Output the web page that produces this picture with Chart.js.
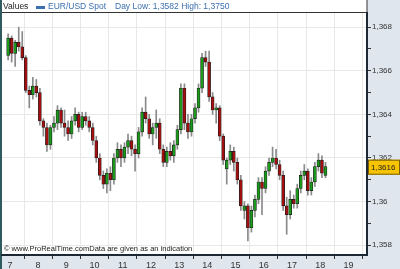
<!DOCTYPE html>
<html lang="en">
<head>
<meta charset="UTF-8">
<title>EUR/USD Spot</title>
<script src="https://cdn.jsdelivr.net/npm/chart.js"></script>
<style>
    body { margin: 0; background: #dfe6ee; }
    .wrap { position: relative; width: 400px; height: 269px; font-family: "Liberation Sans", Arial, sans-serif; }
    canvas { display: block; }
    .hdr { position: absolute; top: 1px; font-size: 8.5px; line-height: 10px; white-space: nowrap; }
    .blue { color: #3b6fae; }
    .swatch { position: absolute; left: 36px; top: 6px; width: 9px; height: 3px; background: #3a6fb0; }
    .note { position: absolute; left: 4px; top: 244px; font-size: 7.5px; line-height: 9px; color: #222; white-space: nowrap; }
</style>
</head>
<body>
<div class="wrap">
    <canvas id="chart" width="400" height="269"></canvas>
    <span class="hdr" style="left:3px;color:#222">Values</span>
    <span class="swatch"></span>
    <span class="hdr blue" style="left:48px">EUR/USD Spot</span>
    <span class="hdr blue" style="left:115px">Day Low: 1,3582 High: 1,3750</span>
    <span class="note">© www.ProRealTime.comData are given as an indication</span>
</div>
<script>
    // candles: one every 3 hours, first one on day 7
    const firstCandleDay = 7.4375;
    const candleStep = 0.125;
    const dayLabels = [7, 8, 9, 10, 11, 12, 13, 14, 15, 16, 17, 18, 19];

    const opens = [
        1.3667, 1.3675, 1.3668, 1.3673, 1.3671, 1.3666, 1.3651, 1.3649, 1.3653, 1.3650,
        1.3637, 1.3634, 1.3626, 1.3634, 1.3636, 1.3642, 1.3636, 1.3634, 1.3631, 1.3637,
        1.3640, 1.3634, 1.3639, 1.3637, 1.3634, 1.3628, 1.3620, 1.3612, 1.3608, 1.3613,
        1.3610, 1.3620, 1.3624, 1.3620, 1.3625, 1.3628, 1.3624, 1.3622, 1.3632, 1.3641,
        1.3638, 1.3631, 1.3634, 1.3636, 1.3624, 1.3618, 1.3623, 1.3621, 1.3626, 1.3633,
        1.3652, 1.3636, 1.3632, 1.3638, 1.3643, 1.3652, 1.3666, 1.3664, 1.3648, 1.3642,
        1.3643, 1.3630, 1.3615, 1.3619, 1.3623, 1.3618, 1.3610, 1.3596, 1.3598, 1.3588,
        1.3596, 1.3601, 1.3609, 1.3606, 1.3614, 1.3618, 1.3620, 1.3617, 1.3612, 1.3598,
        1.3594, 1.3601, 1.3599, 1.3606, 1.3612, 1.3614, 1.3605, 1.3609, 1.3616, 1.3619,
        1.3612
    ];
    const closes = [
        1.3675, 1.3668, 1.3673, 1.3671, 1.3666, 1.3651, 1.3649, 1.3653, 1.3650, 1.3637,
        1.3634, 1.3626, 1.3634, 1.3636, 1.3642, 1.3636, 1.3634, 1.3631, 1.3637, 1.3640,
        1.3634, 1.3639, 1.3637, 1.3634, 1.3628, 1.3620, 1.3612, 1.3608, 1.3613, 1.3610,
        1.3620, 1.3624, 1.3620, 1.3625, 1.3628, 1.3624, 1.3622, 1.3632, 1.3641, 1.3638,
        1.3631, 1.3634, 1.3636, 1.3624, 1.3618, 1.3623, 1.3621, 1.3626, 1.3633, 1.3652,
        1.3636, 1.3632, 1.3638, 1.3643, 1.3652, 1.3666, 1.3664, 1.3648, 1.3642, 1.3643,
        1.3630, 1.3619, 1.3619, 1.3623, 1.3618, 1.3610, 1.3598, 1.3598, 1.3588, 1.3596,
        1.3601, 1.3609, 1.3606, 1.3614, 1.3618, 1.3620, 1.3617, 1.3612, 1.3598, 1.3594,
        1.3601, 1.3599, 1.3606, 1.3612, 1.3614, 1.3605, 1.3609, 1.3616, 1.3619, 1.3613,
        1.3616
    ];
    const highs = [
        1.3677, 1.3676, 1.3674, 1.3680, 1.3678, 1.3667, 1.3653, 1.3657, 1.3656, 1.3652,
        1.3638, 1.3636, 1.3635, 1.3639, 1.3644, 1.3643, 1.3642, 1.3637, 1.3639, 1.3643,
        1.3641, 1.3641, 1.3641, 1.3639, 1.3636, 1.3630, 1.3622, 1.3614, 1.3615, 1.3616,
        1.3622, 1.3627, 1.3626, 1.3627, 1.3631, 1.3630, 1.3626, 1.3634, 1.3643, 1.3648,
        1.3640, 1.3636, 1.3642, 1.3638, 1.3626, 1.3625, 1.3627, 1.3628, 1.3635, 1.3654,
        1.3654, 1.3640, 1.3640, 1.3645, 1.3654, 1.3668, 1.3669, 1.3669, 1.3650, 1.3645,
        1.3644, 1.3631, 1.3620, 1.3626, 1.3625, 1.3620, 1.3612, 1.3600, 1.3599, 1.3598,
        1.3603, 1.3611, 1.3611, 1.3616, 1.3620, 1.3625, 1.3624, 1.3619, 1.3614, 1.3602,
        1.3605, 1.3603, 1.3608, 1.3614, 1.3617, 1.3615, 1.3611, 1.3618, 1.3622, 1.3621,
        1.3618
    ];
    const lows = [
        1.3665, 1.3664, 1.3662, 1.3669, 1.3665, 1.3650, 1.3643, 1.3647, 1.3648, 1.3635,
        1.3630, 1.3623, 1.3624, 1.3632, 1.3633, 1.3634, 1.3630, 1.3628, 1.3629, 1.3635,
        1.3632, 1.3633, 1.3635, 1.3632, 1.3626, 1.3618, 1.3610, 1.3606, 1.3604, 1.3605,
        1.3608, 1.3618, 1.3616, 1.3618, 1.3622, 1.3621, 1.3614, 1.3620, 1.3630, 1.3636,
        1.3629, 1.3626, 1.3629, 1.3622, 1.3616, 1.3616, 1.3619, 1.3618, 1.3624, 1.3631,
        1.3633, 1.3629, 1.3630, 1.3636, 1.3641, 1.3650, 1.3662, 1.3646, 1.3640, 1.3636,
        1.3628, 1.3617, 1.3608, 1.3617, 1.3614, 1.3608, 1.3596, 1.3592, 1.3582, 1.3586,
        1.3593, 1.3599, 1.3594, 1.3604, 1.3612, 1.3616, 1.3615, 1.3610, 1.3596, 1.3585,
        1.3592, 1.3597, 1.3597, 1.3604, 1.3610, 1.3603, 1.3603, 1.3607, 1.3614, 1.3611,
        1.3611
    ];

    const times = opens.map((_, i) => firstCandleDay + i * candleStep);
    const lastPrice = closes[closes.length - 1];

    const fmtPrice = v => parseFloat(v.toFixed(4)).toString().replace('.', ',');

    // backgrounds, frame and last price box
    const framePlugin = {
        id: 'frame',
        beforeDraw(chart) {
            const { ctx, chartArea: a } = chart;
            ctx.save();
            ctx.fillStyle = '#dfe6ee';
            ctx.fillRect(0, 0, chart.width, chart.height);
            ctx.fillStyle = '#fff';
            ctx.fillRect(a.left, 0, a.right - a.left, a.bottom);
            ctx.strokeStyle = '#333';
            ctx.lineWidth = 1;
            ctx.beginPath();
            ctx.moveTo(a.left, 12.5);
            ctx.lineTo(a.right, 12.5);
            ctx.moveTo(a.right, 0);
            ctx.lineTo(a.right, a.top);
            ctx.stroke();
            ctx.fillStyle = '#2f5b5e';
            ctx.fillRect(0, 0, 2, chart.height);
            ctx.restore();
        },
        afterDraw(chart) {
            const { ctx, chartArea: a } = chart;
            const y = chart.scales.y.getPixelForValue(lastPrice);
            ctx.save();
            ctx.fillStyle = '#f6c400';
            ctx.strokeStyle = '#7a6000';
            ctx.lineWidth = 1;
            ctx.fillRect(a.right + 1, y - 7, 32, 15);
            ctx.strokeRect(a.right + 1.5, y - 6.5, 31, 14);
            ctx.fillStyle = '#222';
            ctx.font = '8px "Liberation Sans", Arial, sans-serif';
            ctx.textBaseline = 'middle';
            ctx.fillText(fmtPrice(lastPrice), a.right + 4, y + 1);
            ctx.restore();
        }
    };

    new Chart(document.getElementById('chart'), {
        type: 'bar',
        data: {
            datasets: [
                {
                    label: 'body',
                    order: 0,
                    data: times.map((t, i) => ({ x: t, y: [opens[i], closes[i]] })),
                    backgroundColor: closes.map((c, i) => c >= opens[i] ? '#1c9a1c' : '#a30e0e'),
                    borderColor: '#1e1e1e',
                    borderWidth: 0.7,
                    borderSkipped: false,
                    barThickness: 3
                },
                {
                    label: 'wick',
                    order: 1,
                    data: times.map((t, i) => ({ x: t, y: [lows[i], highs[i]] })),
                    backgroundColor: '#8a8a8a',
                    barThickness: 1
                }
            ]
        },
        options: {
            responsive: false,
            animation: false,
            grouped: false,
            layout: { padding: { top: 13, left: 2 } },
            plugins: { legend: { display: false }, tooltip: { enabled: false } },
            scales: {
                x: {
                    type: 'linear',
                    offset: false,
                    min: 7.22,
                    max: 20.16,
                    ticks: { display: false, stepSize: 1, includeBounds: false },
                    grid: { color: '#e8e8e8', tickLength: 4, tickColor: '#333', offset: false },
                    border: { color: '#1c2833', width: 2 },
                    afterFit: s => { s.height = 4; }
                },
                days: {
                    type: 'linear',
                    position: 'bottom',
                    offset: false,
                    min: 6.72,
                    max: 19.66,
                    grid: { display: false, drawTicks: false },
                    border: { display: false },
                    ticks: {
                        stepSize: 1,
                        includeBounds: false,
                        autoSkip: false,
                        maxRotation: 0,
                        padding: 1,
                        color: '#333',
                        font: { size: 9, family: '"Liberation Sans", Arial, sans-serif' },
                        callback: v => dayLabels.includes(v) ? String(v) : ''
                    },
                    afterFit: s => { s.height = 10; }
                },
                y: {
                    position: 'right',
                    min: 1.35755,
                    max: 1.36865,
                    ticks: {
                        stepSize: 0.001,
                        includeBounds: false,
                        padding: 1,
                        color: '#333',
                        font: { size: 8, family: '"Liberation Sans", Arial, sans-serif' },
                        callback: v => Math.round(v * 1000) % 2 === 0 ? fmtPrice(v) : ''
                    },
                    grid: {
                        color: c => Math.round(c.tick.value * 1000) % 2 === 0 ? '#e8e8e8' : 'rgba(0,0,0,0)',
                        tickLength: 4,
                        tickColor: '#333'
                    },
                    border: { color: '#1c2833', width: 2 },
                    afterFit: s => { s.width = 33; }
                }
            }
        },
        plugins: [framePlugin]
    });
</script>
</body>
</html>
